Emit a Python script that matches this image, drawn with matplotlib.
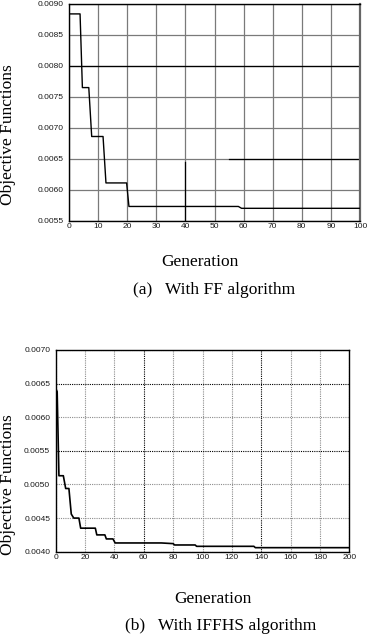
import matplotlib
matplotlib.use("Agg")
import matplotlib.pyplot as plt
import numpy as np

# (a) FF algorithm convergence
gen_ff = [0, 3.8, 4.6, 6.8, 7.8, 11.7, 12.7, 19.8, 20.6, 58.2, 59.3, 100]
obj_ff = [0.00884, 0.00884, 0.00765, 0.00765, 0.00686, 0.00686,
          0.00611, 0.00611, 0.00573, 0.00573, 0.00570, 0.00570]

# (b) IFFHS algorithm convergence
gen_iffhs = [0.4, 1.0, 2.2, 5.2, 6.8, 9.0, 10.6, 12.3, 15.8, 17.0, 27.0, 28.0,
             33.5, 34.5, 39.0, 40.5, 72.0, 80.0, 81.0, 95.0, 96.0, 135.0, 136.0, 200.0]
obj_iffhs = [0.00641, 0.00638, 0.00513, 0.00513, 0.00494, 0.00494, 0.00456, 0.00450,
             0.00450, 0.00435, 0.00435, 0.00425, 0.00425, 0.00419, 0.00419, 0.00413,
             0.00413, 0.00412, 0.00410, 0.00410, 0.00408, 0.00408, 0.00406, 0.00406]

xticks_ff = np.arange(0, 101, 10)
yticks_ff = np.arange(0.0055, 0.00901, 0.0005)
xticks_iffhs = np.arange(0, 201, 20)
yticks_iffhs = np.arange(0.0040, 0.00701, 0.0005)

W, H = 368, 636
fig = plt.figure(figsize=(W / 100, H / 100), dpi=100)

serif = "Liberation Serif"
sans = "Liberation Sans"
tick_fs = 6.0
lab_fs = 12.5


def box(l, t, r, b):
    return [l / W, 1 - b / H, (r - l) / W, (b - t) / H]


def style_ticks(ax, xt, yt):
    ax.set_xticks(xt)
    ax.set_yticks(yt)
    ax.set_yticklabels(["%.4f" % v for v in yt])
    ax.tick_params(length=0, labelsize=tick_fs, colors="#1a1a1a")
    ax.tick_params(axis="x", pad=1.5)
    ax.tick_params(axis="y", pad=4)
    for lab in ax.get_xticklabels() + ax.get_yticklabels():
        lab.set_fontfamily(sans)


# [1] FF plot
ax1 = fig.add_axes(box(69, 4, 360, 220.7))
ax1.plot(gen_ff, obj_ff, color="black", lw=1.0, zorder=3)
ax1.set_xlim(0, 100)
ax1.set_ylim(0.0055, 0.0090)
style_ticks(ax1, xticks_ff, yticks_ff)
ax1.grid(True, color="#7a7a7a", lw=0.9, ls="-")
# darker grid segments as in the scanned original
ax1.axhline(0.0080, color="black", lw=0.9, zorder=2)
ax1.axhline(0.0065, xmin=0.55, xmax=1.0, color="black", lw=0.9, zorder=2)
ax1.axvline(40, ymin=0, ymax=(0.00645 - 0.0055) / 0.0035, color="black", lw=0.9, zorder=2)
for side in ["left", "bottom", "top"]:
    ax1.spines[side].set_color("black")
    ax1.spines[side].set_linewidth(1.0)
ax1.spines["right"].set_color("#666666")
ax1.spines["right"].set_linewidth(1.6)

# [2] IFFHS plot
ax2 = fig.add_axes(box(55.7, 350, 349.3, 551.7))
ax2.plot(gen_iffhs, obj_iffhs, color="black", lw=1.2, zorder=3)
ax2.set_xlim(0, 200)
ax2.set_ylim(0.0040, 0.0070)
style_ticks(ax2, xticks_iffhs, yticks_iffhs)
ax2.grid(True, color="#8c8c8c", lw=0.8, ls=(0, (1, 1)))
for i, gl in enumerate(ax2.get_xgridlines()):
    if xticks_iffhs[i] in (60, 140):
        gl.set_color("black")
for i, gl in enumerate(ax2.get_ygridlines()):
    if round(yticks_iffhs[i], 4) in (0.0065, 0.0055):
        gl.set_color("black")
for s in ax2.spines.values():
    s.set_color("black")
    s.set_linewidth(1.0)

# labels and captions
fig.text(200 / W, 1 - 262 / H, "Generation", family=serif, fontsize=lab_fs,
         ha="center", va="center")
fig.text(214 / W, 1 - 290 / H, "(a)   With FF algorithm", family=serif,
         fontsize=lab_fs, ha="center", va="center")
fig.text(8 / W, 1 - 135 / H, "Objective Functions", family=serif, fontsize=lab_fs,
         rotation=90, ha="center", va="center")

fig.text(213 / W, 1 - 599 / H, "Generation", family=serif, fontsize=lab_fs,
         ha="center", va="center")
fig.text(221 / W, 1 - 626 / H, "(b)   With IFFHS algorithm", family=serif,
         fontsize=lab_fs, ha="center", va="center")
fig.text(8 / W, 1 - 485 / H, "Objective Functions", family=serif, fontsize=lab_fs,
         rotation=90, ha="center", va="center")

fig.savefig("out.png", dpi=100)
